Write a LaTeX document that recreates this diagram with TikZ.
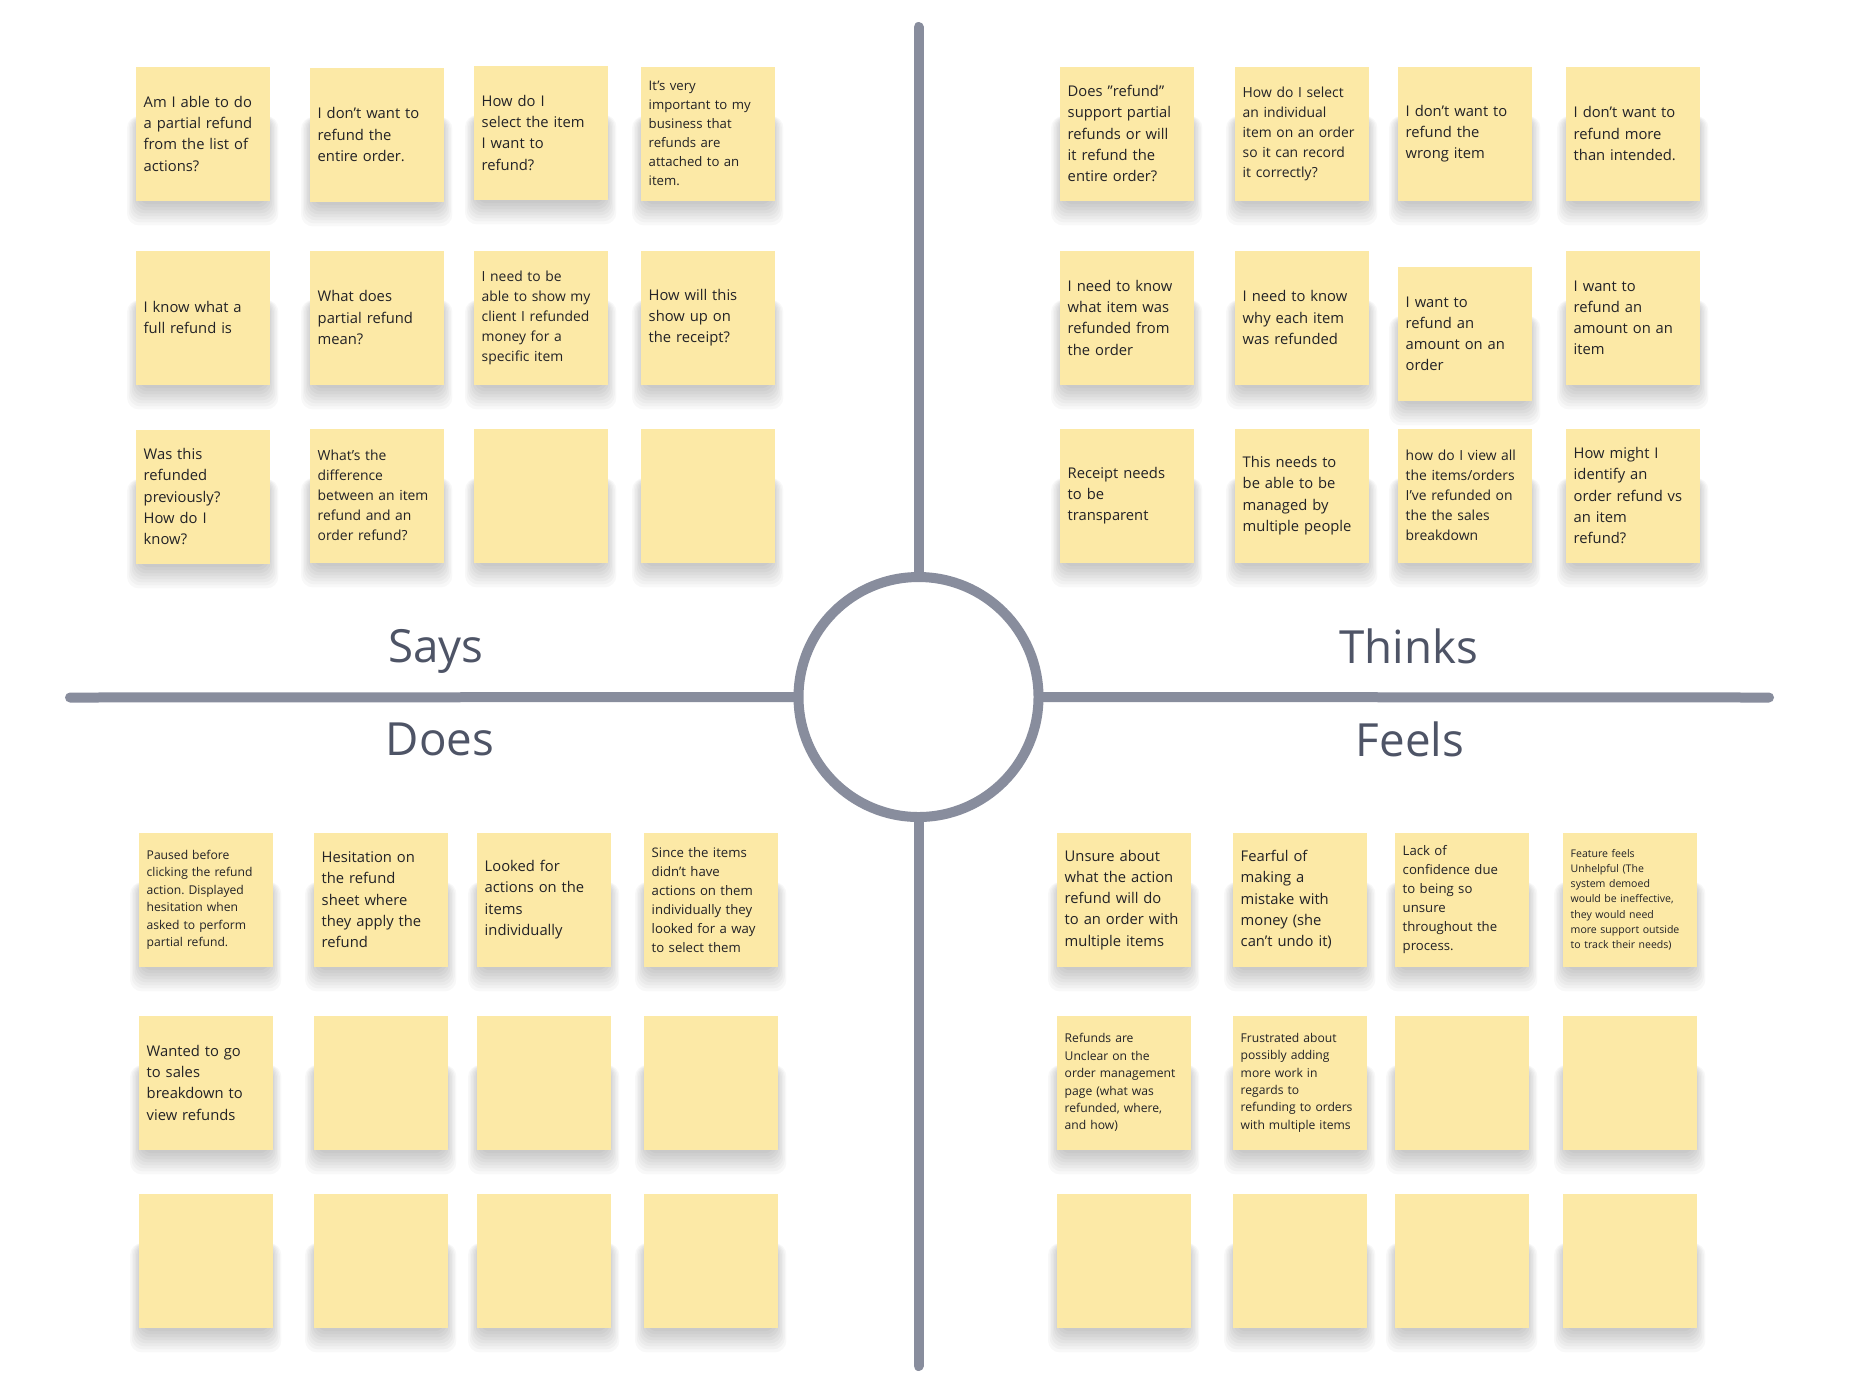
\documentclass[tikz,border=0pt]{standalone}
\usepackage{fontspec}
\setmainfont{Open Sans}
\usetikzlibrary{positioning,backgrounds}
\frenchspacing

\definecolor{notefill}{RGB}{252,233,166}
\definecolor{notetext}{RGB}{34,34,38}
\definecolor{axisgray}{RGB}{136,141,157}
\definecolor{headgray}{RGB}{78,84,102}

\tikzset{
  note/.style={anchor=north west, fill=notefill, text=notetext, align=left,
    minimum width=13.4mm, minimum height=13.4mm, text width=11.8mm,
    inner xsep=0.8mm, inner ysep=0pt, font=\fontsize{4.2}{6.05}\selectfont},
  note b/.style={note, font=\fontsize{3.95}{5.7}\selectfont},
  note c/.style={note, font=\fontsize{3.75}{5.4}\selectfont},
  note d/.style={note, font=\fontsize{3.45}{4.95}\selectfont},
  note e/.style={note, font=\fontsize{3.0}{4.35}\selectfont},
  note shadow/.style={fill=black, opacity=0.028, rounded corners=1.2mm},
  axis/.style={draw=axisgray, line width=1mm, line cap=round},
  heading/.style={anchor=base, text=headgray, font=\fontsize{13}{15}\selectfont},
}

\begin{document}
\begin{tikzpicture}[x=0.1mm, y=-0.1mm]
    \useasboundingbox (0,0) rectangle (1858,1378);

    % the cross and the hub in the middle
    \node[circle, draw=axisgray, line width=1mm, fill=white, minimum size=24mm, inner sep=0pt] (hub) at (918.5,697) {};
    \coordinate (top end) at (918.5,27);
    \coordinate (bottom end) at (918.5,1366);
    \coordinate (left end) at (70,697.5);
    \coordinate (right end) at (1769,697.5);
    \draw[axis] (top end) -- (hub.north);
    \draw[axis] (hub.south) -- (bottom end);
    \draw[axis] (left end) -- (hub.west);
    \draw[axis] (hub.east) -- (right end);

    \node[heading] (says) at (436,662) {Says};
    \node[heading] (thinks) at (1409,663) {Thinks};
    \node[heading] (does) at (440,755) {Does};
    \node[heading] (feels) at (1410,756) {Feels};

    % Says
    \node[note] (says1) at (135,66) {Am I able to do\\a partial refund\\from the list of\\actions?};
    \node[note] (says2) at (309,67) {I don't want to\\refund the\\entire order.};
    \node[note] (says3) at (473,65) {How do I\\select the item\\I want to\\refund?};
    \node[note c] (says4) at (640,66) {It's very\\important to my\\business that\\refunds are\\attached to an\\item.};
    \node[note] (says5) at (135,250) {I know what a\\full refund is};
    \node[note] (says6) at (309,250) {What does\\partial refund\\mean?};
    \node[note b] (says7) at (473,250) {I need to be\\able to show my\\client I refunded\\money for a\\specific item};
    \node[note] (says8) at (640,250) {How will this\\show up on\\the receipt?};
    \node[note] (says9) at (135,429) {Was this\\refunded\\previously?\\How do I\\know?};
    \node[note b] (says10) at (309,428) {What's the\\difference\\between an item\\refund and an\\order refund?};
    \node[note] (says11) at (473,428) {};
    \node[note] (says12) at (640,428) {};

    % Thinks
    \node[note] (thinks1) at (1059,66) {Does "refund"\\support partial\\refunds or will\\it refund the\\entire order?};
    \node[note b] (thinks2) at (1234,66) {How do I select\\an individual\\item on an order\\so it can record\\it correctly?};
    \node[note] (thinks3) at (1397,66) {I don't want to\\refund the\\wrong item};
    \node[note] (thinks4) at (1565,66) {I don't want to\\refund more\\than intended.};
    \node[note] (thinks5) at (1059,250) {I need to know\\what item was\\refunded from\\the order};
    \node[note] (thinks6) at (1234,250) {I need to know\\why each item\\was refunded};
    \node[note] (thinks7) at (1397,266) {I want to\\refund an\\amount on an\\order};
    \node[note] (thinks8) at (1565,250) {I want to\\refund an\\amount on an\\item};
    \node[note] (thinks9) at (1059,428) {Receipt needs\\to be\\transparent};
    \node[note] (thinks10) at (1234,428) {This needs to\\be able to be\\managed by\\multiple people};
    \node[note b] (thinks11) at (1397,428) {how do I view all\\the items/orders\\I've refunded on\\the the sales\\breakdown};
    \node[note] (thinks12) at (1565,428) {How might I\\identify an\\order refund vs\\an item\\refund?};

    % Does
    \node[note d] (does1) at (138,832) {Paused before\\clicking the refund\\action. Displayed\\hesitation when\\asked to perform\\partial refund.};
    \node[note] (does2) at (313,832) {Hesitation on\\the refund\\sheet where\\they apply the\\refund};
    \node[note] (does3) at (476,832) {Looked for\\actions on the\\items\\individually};
    \node[note c] (does4) at (643,832) {Since the items\\didn't have\\actions on them\\individually they\\looked for a way\\to select them};
    \node[note] (does5) at (138,1015) {Wanted to go\\to sales\\breakdown to\\view refunds};
    \node[note] (does6) at (313,1015) {};
    \node[note] (does7) at (476,1015) {};
    \node[note] (does8) at (643,1015) {};
    \node[note] (does9) at (138,1193) {};
    \node[note] (does10) at (313,1193) {};
    \node[note] (does11) at (476,1193) {};
    \node[note] (does12) at (643,1193) {};

    % Feels
    \node[note] (feels1) at (1056,832) {Unsure about\\what the action\\refund will do\\to an order with\\multiple items};
    \node[note] (feels2) at (1232,832) {Fearful of\\making a\\mistake with\\money (she\\can't undo it)};
    \node[note c] (feels3) at (1394,832) {Lack of\\confidence due\\to being so\\unsure\\throughout the\\process.};
    \node[note e] (feels4) at (1562,832) {Feature feels\\Unhelpful (The\\system demoed\\would be ineffective,\\they would need\\more support outside\\to track their needs)};
    \node[note d] (feels5) at (1056,1015) {Refunds are\\Unclear on the\\order management\\page (what was\\refunded, where,\\and how)};
    \node[note d] (feels6) at (1232,1015) {Frustrated about\\possibly adding\\more work in\\regards to\\refunding to orders\\with multiple items};
    \node[note] (feels7) at (1394,1015) {};
    \node[note] (feels8) at (1562,1015) {};
    \node[note] (feels9) at (1056,1193) {};
    \node[note] (feels10) at (1232,1193) {};
    \node[note] (feels11) at (1394,1193) {};
    \node[note] (feels12) at (1562,1193) {};

    % soft shadows under the notes, white page behind everything
    \begin{scope}[on background layer]
        \fill[white] (0,0) rectangle (1858,1378);
        \foreach \q in {says,thinks,does,feels}
            \foreach \i in {1,...,12}
                \foreach \k in {1,...,8}
                    \fill[note shadow] ([xshift={(0.4-0.15*\k)*1mm}, yshift={-0.3*\k*1mm}]\q\i.south west)
                        rectangle ([xshift={(0.15*\k-0.4)*1mm}, yshift=-5mm]\q\i.north east);
    \end{scope}
\end{tikzpicture}
\end{document}
